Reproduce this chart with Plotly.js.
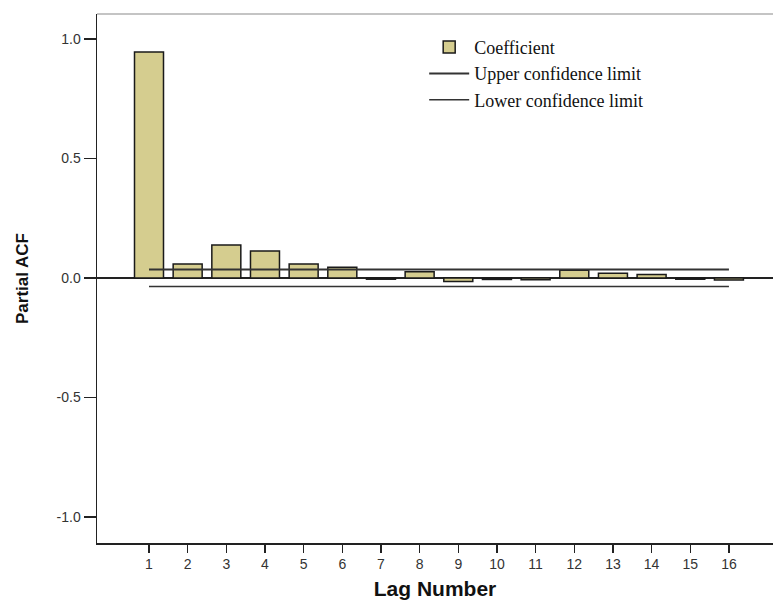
<!DOCTYPE html>
<html>
<head>
<meta charset="utf-8">
<script src="https://cdn.plot.ly/plotly-3.0.1.min.js"></script>
<style>html,body{margin:0;padding:0;background:#fff;}#chart{width:773px;height:601px;}</style>
</head>
<body>
<div id="chart"></div>
<script>
const lags = [1,2,3,4,5,6,7,8,9,10,11,12,13,14,15,16];
const pacf = [0.946,0.059,0.138,0.113,0.059,0.045,-0.005,0.026,-0.015,-0.006,-0.007,0.033,0.020,0.015,-0.005,-0.008];
const upperLimit = [0.036,0.036,0.036,0.036,0.036,0.036,0.036,0.036,0.036,0.036,0.036,0.036,0.036,0.036,0.036,0.036];
const lowerLimit = [-0.036,-0.036,-0.036,-0.036,-0.036,-0.036,-0.036,-0.036,-0.036,-0.036,-0.036,-0.036,-0.036,-0.036,-0.036,-0.036];
const yTickVals = [-1.0,-0.5,0.0,0.5,1.0];
const yTickText = ["-1.0","-0.5","0.0","0.5","1.0"];

const traces = [
  {type:'bar', x:lags, y:pacf, name:'Coefficient', width:0.75,
   marker:{color:'#d5cd8f', line:{color:'#1a1a1a', width:1.5}}},
  {type:'scatter', mode:'lines', x:lags, y:upperLimit, name:'Upper confidence limit',
   line:{color:'#333333', width:2}},
  {type:'scatter', mode:'lines', x:lags, y:lowerLimit, name:'Lower confidence limit',
   line:{color:'#333333', width:1.5}}
];

const layout = {
  width:773, height:601,
  margin:{l:97, r:0, t:14, b:58},
  paper_bgcolor:'#ffffff', plot_bgcolor:'#ffffff',
  showlegend:true,
  legend:{x:0.484, y:0.972, xanchor:'left', yanchor:'top', bgcolor:'rgba(0,0,0,0)',
          font:{family:'Liberation Serif, Times New Roman, serif', size:18, color:'#111'},
          tracegroupgap:0, itemwidth:40},
  xaxis:{range:[-0.345,17.14], tickvals:lags, ticktext:lags.map(String), ticks:'outside', ticklen:8,
         tickwidth:1.5, tickcolor:'#222', showgrid:false, zeroline:false, showline:true,
         linecolor:'#222', linewidth:1.5,
         tickfont:{family:'Liberation Sans, Arial, sans-serif', size:14, color:'#333'},
         title:{text:'Lag Number', font:{family:'Liberation Sans, Arial, sans-serif', size:21, color:'#111', weight:'bold'}, standoff:10}},
  yaxis:{range:[-1.109,1.105], tickvals:yTickVals, ticktext:yTickText, ticks:'outside', ticklen:12,
         tickwidth:1.5, tickcolor:'#222', showgrid:false, zeroline:true, zerolinecolor:'#222',
         zerolinewidth:1.5, showline:true, linecolor:'#222', linewidth:1.5,
         tickfont:{family:'Liberation Sans, Arial, sans-serif', size:14, color:'#333'},
         title:{text:'Partial ACF', font:{family:'Liberation Sans, Arial, sans-serif', size:17, color:'#111', weight:'bold'}, standoff:23}},
  shapes:[{type:'line', xref:'paper', yref:'paper', x0:0, x1:1, y0:1, y1:1, line:{color:'#c4c4c4', width:2}}]
};

Plotly.newPlot('chart', traces, layout, {displayModeBar:false, staticPlot:true});
</script>
</body>
</html>
